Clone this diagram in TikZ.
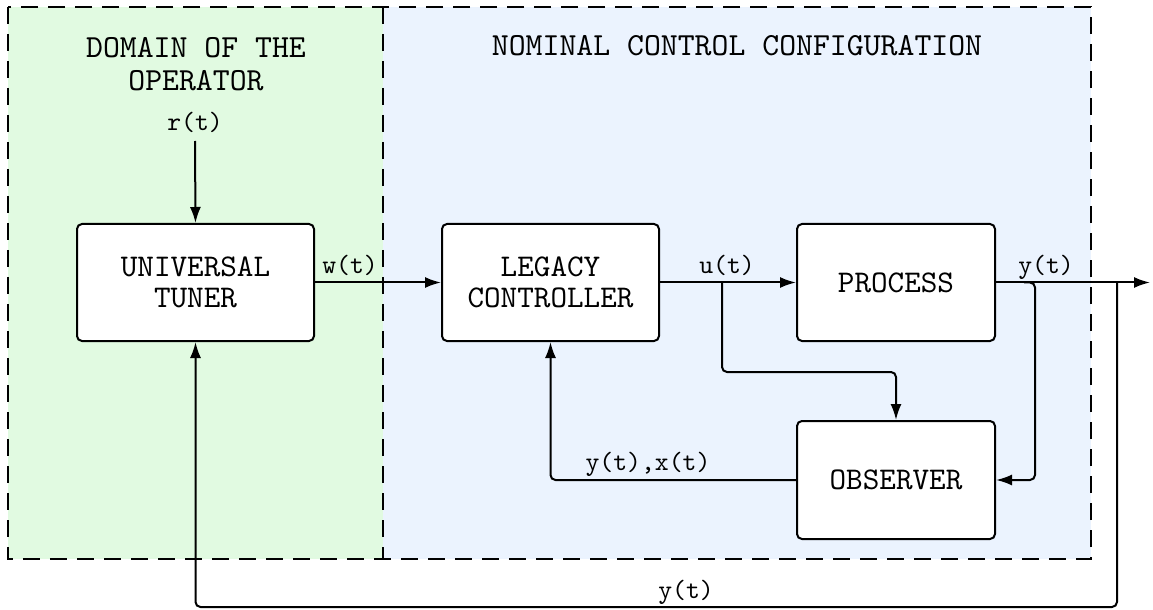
\documentclass[tikz,border=0pt]{standalone}
\usepackage{fontspec}
\setmonofont{lmmono10-regular}[Extension=.otf]
\usetikzlibrary{arrows.meta}
\definecolor{opgreen}{RGB}{225,250,225}
\definecolor{nomblue}{RGB}{235,243,254}
\begin{document}
\begin{tikzpicture}[x=0.5pt,y=-0.5pt,
  blk/.style={draw, line width=1pt, rounded corners=2.5pt, fill=white, align=center, inner sep=0pt, font=\fontsize{15.8}{15.5}\selectfont\ttfamily},
  lbl/.style={font=\fontsize{13.2}{14}\selectfont\ttfamily, inner sep=0pt, anchor=base},
  hdr/.style={font=\fontsize{16.1}{16.5}\selectfont\ttfamily, align=center, inner sep=0pt},
  zone/.style={draw, line width=1pt, dash pattern=on 8.5pt off 5pt},
  conn/.style={line width=1pt, rounded corners=2.5pt},
  arr/.style={conn, -{Latex[length=8pt,width=5.5pt]}},
]
\useasboundingbox (0,0) rectangle (1153,610);
% zones
\path[fill=opgreen] (8,7) rectangle (383,559);
\path[fill=nomblue] (383,7) rectangle (1091,559);
\draw[zone] (8,7) rectangle (1091,559);
\draw[zone] (383,7) -- (383,559);
% headers
\node[hdr] (hop) at (196,64) {DOMAIN OF THE\\OPERATOR};
\node[hdr] (hnom) at (737,46) {NOMINAL CONTROL CONFIGURATION};
% blocks
\node[blk, minimum width=118.5pt, minimum height=58.5pt] (tuner) at (195.5,282.5) {UNIVERSAL\\TUNER};
\node[blk, minimum width=108.5pt, minimum height=58.5pt] (legacy) at (550.5,282.5) {LEGACY\\CONTROLLER};
\node[blk, minimum width=99pt, minimum height=58.5pt] (process) at (896,282.5) {PROCESS};
\node[blk, minimum width=99pt, minimum height=59pt] (observer) at (896,480) {OBSERVER};
% reference input
\node[lbl] (rlbl) at (195,131) {r(t)};
\coordinate (rstart) at (195,141);
\draw[arr] (rstart) -- (tuner.north);
% forward path
\draw[arr] (tuner.east) -- (legacy.west);
\node[lbl] (wlbl) at (350,274) {w(t)};
\draw[arr] (legacy.east) -- (process.west);
\node[lbl] (ulbl) at (727,273) {u(t)};
\coordinate (yend) at (1150,282.5);
\draw[arr] (process.east) -- (yend);
\node[lbl] (ylbl) at (1046,274) {y(t)};
% u branch to observer
\coordinate (ubr) at (722,282.5);
\draw[arr] (ubr) -- (722,372) -| (observer.north);
% y branch to observer
\coordinate (ybr1) at (1024,282.5);
\draw[arr] (ybr1) -- (1035,282.5) -- (1035,480) -- (observer.east);
% observer to legacy
\draw[arr] (observer.west) -| (legacy.south);
\node[lbl] (yxlbl) at (648,470) {y(t),x(t)};
% outer feedback to tuner
\coordinate (ybr2) at (1117,282.5);
\draw[arr] (ybr2) -- (1117,607) -| (tuner.south);
\node[lbl] (yflbl) at (686,598) {y(t)};
\end{tikzpicture}
\end{document}
